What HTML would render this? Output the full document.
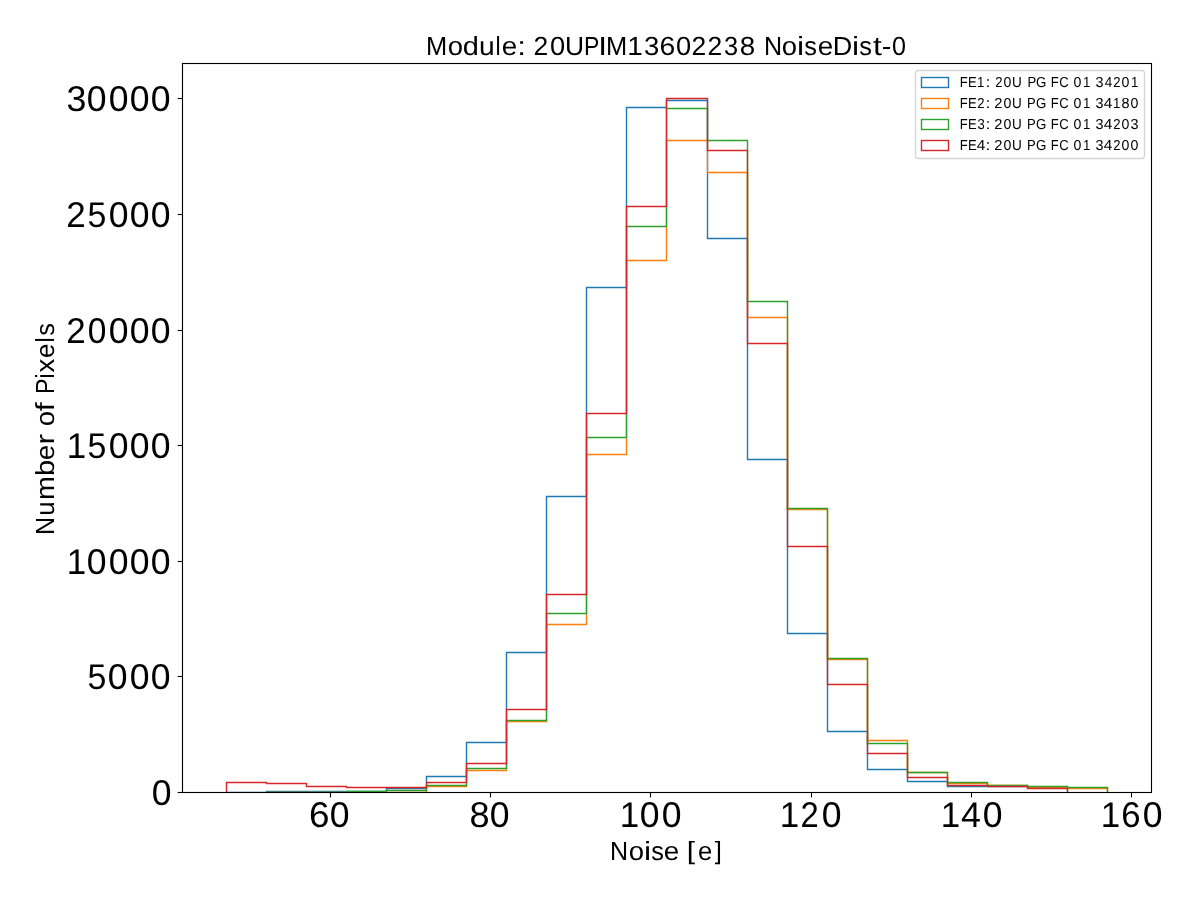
<!DOCTYPE html>
<html lang="en"><head><meta charset="utf-8"><title>Module: 20UPIM13602238 NoiseDist-0</title>
<style>
html,body{margin:0;padding:0;background:#ffffff;}
body{width:1200px;height:900px;overflow:hidden;}
svg{display:block;will-change:transform;}
text{font-family:"Liberation Sans",sans-serif;fill:#000000;text-rendering:geometricPrecision;}
</style></head><body>
<svg width="1200" height="900" viewBox="0 0 1200 900">
<rect x="0" y="0" width="1200" height="900" fill="#ffffff"/>
<defs><clipPath id="axclip"><rect x="181.97" y="63.4" width="969" height="728.65"/></clipPath></defs>
<!-- step histograms -->
<g fill="none" stroke-width="1.39" stroke-linejoin="miter" stroke-linecap="butt" clip-path="url(#axclip)">
<polyline stroke="#1f77b4" points="226.5,792.5 266.5,792.5 266.5,791.5 306.5,791.5 346.5,791.5 386.5,791.5 386.5,788.5 426.5,788.5 426.5,776.5 466.5,776.5 466.5,742.5 506.5,742.5 506.5,652.5 546.5,652.5 546.5,496.5 586.5,496.5 586.5,287.5 626.5,287.5 626.5,107.5 666.5,107.5 666.5,100.5 707.5,100.5 707.5,238.5 747.5,238.5 747.5,459.5 787.5,459.5 787.5,633.5 827.5,633.5 827.5,731.5 867.5,731.5 867.5,769.5 907.5,769.5 907.5,781.5 947.5,781.5 947.5,786.5 987.5,786.5 1027.5,786.5 1027.5,787.5 1067.5,787.5 1067.5,792.5"/>
<polyline stroke="#ff7f0e" points="266.5,792.5 306.5,792.5 346.5,792.5 386.5,792.5 426.5,792.5 426.5,786.5 466.5,786.5 466.5,770.5 506.5,770.5 506.5,721.5 546.5,721.5 546.5,624.5 586.5,624.5 586.5,454.5 626.5,454.5 626.5,260.5 666.5,260.5 666.5,140.5 707.5,140.5 707.5,172.5 747.5,172.5 747.5,317.5 787.5,317.5 787.5,509.5 827.5,509.5 827.5,659.5 867.5,659.5 867.5,740.5 907.5,740.5 907.5,772.5 947.5,772.5 947.5,783.5 987.5,783.5 987.5,785.5 1027.5,785.5 1027.5,787.5 1067.5,787.5 1067.5,788.5 1107.5,788.5 1107.5,792.5"/>
<polyline stroke="#2ca02c" points="266.5,792.5 306.5,792.5 346.5,792.5 346.5,791.5 386.5,791.5 386.5,790.5 426.5,790.5 426.5,785.5 466.5,785.5 466.5,768.5 506.5,768.5 506.5,720.5 546.5,720.5 546.5,613.5 586.5,613.5 586.5,437.5 626.5,437.5 626.5,226.5 666.5,226.5 666.5,108.5 707.5,108.5 707.5,140.5 747.5,140.5 747.5,301.5 787.5,301.5 787.5,508.5 827.5,508.5 827.5,658.5 867.5,658.5 867.5,743.5 907.5,743.5 907.5,772.5 947.5,772.5 947.5,782.5 987.5,782.5 987.5,785.5 1027.5,785.5 1027.5,786.5 1067.5,786.5 1067.5,787.5 1107.5,787.5 1107.5,792.5"/>
<polyline stroke="#d62728" points="226.5,792.5 226.5,782.5 266.5,782.5 266.5,783.5 306.5,783.5 306.5,786.5 346.5,786.5 346.5,787.5 386.5,787.5 426.5,787.5 426.5,782.5 466.5,782.5 466.5,763.5 506.5,763.5 506.5,709.5 546.5,709.5 546.5,594.5 586.5,594.5 586.5,413.5 626.5,413.5 626.5,206.5 666.5,206.5 666.5,98.5 707.5,98.5 707.5,150.5 747.5,150.5 747.5,343.5 787.5,343.5 787.5,546.5 827.5,546.5 827.5,684.5 867.5,684.5 867.5,753.5 907.5,753.5 907.5,777.5 947.5,777.5 947.5,785.5 987.5,785.5 987.5,786.5 1027.5,786.5 1027.5,788.5 1067.5,788.5 1067.5,792.5"/>
</g>
<!-- ticks -->
<g stroke="#000000" stroke-width="1.11">
<line x1="330.5" y1="792.5" x2="330.5" y2="797.36"/>
<line x1="490.5" y1="792.5" x2="490.5" y2="797.36"/>
<line x1="650.5" y1="792.5" x2="650.5" y2="797.36"/>
<line x1="811.5" y1="792.5" x2="811.5" y2="797.36"/>
<line x1="971.5" y1="792.5" x2="971.5" y2="797.36"/>
<line x1="1131.5" y1="792.5" x2="1131.5" y2="797.36"/>
<line x1="177.64" y1="792.5" x2="182.5" y2="792.5"/>
<line x1="177.64" y1="676.5" x2="182.5" y2="676.5"/>
<line x1="177.64" y1="561.5" x2="182.5" y2="561.5"/>
<line x1="177.64" y1="445.5" x2="182.5" y2="445.5"/>
<line x1="177.64" y1="330.5" x2="182.5" y2="330.5"/>
<line x1="177.64" y1="214.5" x2="182.5" y2="214.5"/>
<line x1="177.64" y1="98.5" x2="182.5" y2="98.5"/>
</g>
<rect x="182.5" y="63.5" width="969" height="729" fill="none" stroke="#000000" stroke-width="1.11" stroke-linejoin="miter"/>
<!-- legend -->
<rect x="915.5" y="70.5" width="229" height="88" rx="2.8" ry="2.8" fill="#ffffff" fill-opacity="0.8" stroke="#cccccc" stroke-opacity="0.8" stroke-width="1.39"/>
<rect x="921.5" y="77.5" width="27" height="10" fill="none" stroke="#1f77b4" stroke-width="1.39"/>
<rect x="921.5" y="98.5" width="27" height="10" fill="none" stroke="#ff7f0e" stroke-width="1.39"/>
<rect x="921.5" y="119.5" width="27" height="10" fill="none" stroke="#2ca02c" stroke-width="1.39"/>
<rect x="921.5" y="140.5" width="27" height="10" fill="none" stroke="#d62728" stroke-width="1.39"/>
<!-- text -->
<text transform="translate(686.86,859.05) scale(1,0.95)" font-size="26.2" textLength="8.32" lengthAdjust="spacingAndGlyphs">[</text>
<text x="697.9" y="860" font-size="26.2" textLength="14.28" lengthAdjust="spacingAndGlyphs">e</text>
<text transform="translate(714.76,859.05) scale(1,0.95)" font-size="26.2" textLength="7.1" lengthAdjust="spacingAndGlyphs">]</text>
<text x="425.94" y="55" font-size="26.2" textLength="21.2" lengthAdjust="spacingAndGlyphs">M</text>
<text x="447.82" y="55" font-size="26.2" textLength="15.31" lengthAdjust="spacingAndGlyphs">o</text>
<text x="462.76" y="55" font-size="26.2" textLength="16.13" lengthAdjust="spacingAndGlyphs">d</text>
<text x="479.11" y="55" font-size="26.2" textLength="15.72" lengthAdjust="spacingAndGlyphs">u</text>
<text x="495.42" y="55" font-size="26.2" textLength="5.13" lengthAdjust="spacingAndGlyphs">l</text>
<text x="501.81" y="55" font-size="26.2" textLength="15.47" lengthAdjust="spacingAndGlyphs">e</text>
<text x="517.15" y="55" font-size="26.2" textLength="8.74" lengthAdjust="spacingAndGlyphs">:</text>
<text x="533.61" y="55" font-size="26.2" textLength="14.73" lengthAdjust="spacingAndGlyphs">2</text>
<text x="549.96" y="55" font-size="26.2" textLength="15.16" lengthAdjust="spacingAndGlyphs">0</text>
<text x="564.98" y="55" font-size="26.2" textLength="19.08" lengthAdjust="spacingAndGlyphs">U</text>
<text x="583.97" y="55" font-size="26.2" textLength="15.37" lengthAdjust="spacingAndGlyphs">P</text>
<text x="598.15" y="55" font-size="26.2" textLength="8.74" lengthAdjust="spacingAndGlyphs">I</text>
<text x="605.94" y="55" font-size="26.2" textLength="21.2" lengthAdjust="spacingAndGlyphs">M</text>
<text x="627.37" y="55" font-size="26.2" textLength="15.55" lengthAdjust="spacingAndGlyphs">1</text>
<text x="643.95" y="55" font-size="26.2" textLength="15.31" lengthAdjust="spacingAndGlyphs">3</text>
<text x="659.51" y="55" font-size="26.2" textLength="15.79" lengthAdjust="spacingAndGlyphs">6</text>
<text x="675.96" y="55" font-size="26.2" textLength="15.16" lengthAdjust="spacingAndGlyphs">0</text>
<text x="691.61" y="55" font-size="26.2" textLength="14.73" lengthAdjust="spacingAndGlyphs">2</text>
<text x="707.61" y="55" font-size="26.2" textLength="14.73" lengthAdjust="spacingAndGlyphs">2</text>
<text x="724.03" y="55" font-size="26.2" textLength="14.14" lengthAdjust="spacingAndGlyphs">3</text>
<text x="739.81" y="55" font-size="26.2" textLength="15.47" lengthAdjust="spacingAndGlyphs">8</text>
<text x="763.97" y="55" font-size="26.2" textLength="18.11" lengthAdjust="spacingAndGlyphs">N</text>
<text x="781.82" y="55" font-size="26.2" textLength="15.31" lengthAdjust="spacingAndGlyphs">o</text>
<text x="796.99" y="55" font-size="26.2" textLength="7.11" lengthAdjust="spacingAndGlyphs">i</text>
<text x="804.27" y="55" font-size="26.2" textLength="12.66" lengthAdjust="spacingAndGlyphs">s</text>
<text x="817.81" y="55" font-size="26.2" textLength="15.47" lengthAdjust="spacingAndGlyphs">e</text>
<text x="832.81" y="55" font-size="26.2" textLength="19.53" lengthAdjust="spacingAndGlyphs">D</text>
<text x="851.99" y="55" font-size="26.2" textLength="7.11" lengthAdjust="spacingAndGlyphs">i</text>
<text x="859.27" y="55" font-size="26.2" textLength="12.66" lengthAdjust="spacingAndGlyphs">s</text>
<text x="872.92" y="55" font-size="26.2" textLength="8.88" lengthAdjust="spacingAndGlyphs">t</text>
<text x="881.76" y="55" font-size="26.2" textLength="9.59" lengthAdjust="spacingAndGlyphs">-</text>
<text x="892.04" y="55" font-size="26.2" textLength="13.99" lengthAdjust="spacingAndGlyphs">0</text>
<text x="609.97" y="860" font-size="26.2" textLength="18.11" lengthAdjust="spacingAndGlyphs">N</text>
<text x="628.82" y="860" font-size="26.2" textLength="15.31" lengthAdjust="spacingAndGlyphs">o</text>
<text x="643.99" y="860" font-size="26.2" textLength="7.11" lengthAdjust="spacingAndGlyphs">i</text>
<text x="651.27" y="860" font-size="26.2" textLength="12.66" lengthAdjust="spacingAndGlyphs">s</text>
<text x="663.81" y="860" font-size="26.2" textLength="15.47" lengthAdjust="spacingAndGlyphs">e</text>
<text transform="translate(54,394.03) rotate(-90)" font-size="26.2" textLength="15.37" lengthAdjust="spacingAndGlyphs">P</text>
<text transform="translate(54,378.56) rotate(-90)" font-size="26.2" textLength="5.18" lengthAdjust="spacingAndGlyphs">i</text>
<text transform="translate(54,372.39) rotate(-90)" font-size="26.2" textLength="13.76" lengthAdjust="spacingAndGlyphs">x</text>
<text transform="translate(54,358.1) rotate(-90)" font-size="26.2" textLength="14.28" lengthAdjust="spacingAndGlyphs">e</text>
<text transform="translate(54,342.58) rotate(-90)" font-size="26.2" textLength="5.13" lengthAdjust="spacingAndGlyphs">l</text>
<text transform="translate(54,335.73) rotate(-90)" font-size="26.2" textLength="12.66" lengthAdjust="spacingAndGlyphs">s</text>
<text transform="translate(54,426.18) rotate(-90)" font-size="26.2" textLength="15.31" lengthAdjust="spacingAndGlyphs">o</text>
<text transform="translate(54,411.23) rotate(-90)" font-size="26.2" textLength="8.88" lengthAdjust="spacingAndGlyphs">f</text>
<text transform="translate(54,535.03) rotate(-90)" font-size="26.2" textLength="18.11" lengthAdjust="spacingAndGlyphs">N</text>
<text transform="translate(54,515.73) rotate(-90)" font-size="26.2" textLength="14.41" lengthAdjust="spacingAndGlyphs">u</text>
<text transform="translate(54,499.9) rotate(-90)" font-size="26.2" textLength="23.76" lengthAdjust="spacingAndGlyphs">m</text>
<text transform="translate(54,475.94) rotate(-90)" font-size="26.2" textLength="16.13" lengthAdjust="spacingAndGlyphs">b</text>
<text transform="translate(54,460.19) rotate(-90)" font-size="26.2" textLength="15.47" lengthAdjust="spacingAndGlyphs">e</text>
<text transform="translate(54,444.6) rotate(-90)" font-size="26.2" textLength="10.66" lengthAdjust="spacingAndGlyphs">r</text>
<text x="309.07" y="827" font-size="35.8" textLength="20.53" lengthAdjust="spacingAndGlyphs">6</text>
<text x="329.64" y="827" font-size="35.8" textLength="19.78" lengthAdjust="spacingAndGlyphs">0</text>
<text x="469.49" y="827" font-size="35.8" textLength="20.07" lengthAdjust="spacingAndGlyphs">8</text>
<text x="489.64" y="827" font-size="35.8" textLength="19.78" lengthAdjust="spacingAndGlyphs">0</text>
<text x="619.82" y="827" font-size="35.8" textLength="19.44" lengthAdjust="spacingAndGlyphs">1</text>
<text x="639.64" y="827" font-size="35.8" textLength="19.78" lengthAdjust="spacingAndGlyphs">0</text>
<text x="661.64" y="827" font-size="35.8" textLength="19.78" lengthAdjust="spacingAndGlyphs">0</text>
<text x="779.82" y="827" font-size="35.8" textLength="19.44" lengthAdjust="spacingAndGlyphs">1</text>
<text x="800.4" y="827" font-size="35.8" textLength="18.25" lengthAdjust="spacingAndGlyphs">2</text>
<text x="821.64" y="827" font-size="35.8" textLength="19.78" lengthAdjust="spacingAndGlyphs">0</text>
<text x="940.82" y="827" font-size="35.8" textLength="19.44" lengthAdjust="spacingAndGlyphs">1</text>
<text x="961.12" y="827" font-size="35.8" textLength="19.92" lengthAdjust="spacingAndGlyphs">4</text>
<text x="982.64" y="827" font-size="35.8" textLength="19.78" lengthAdjust="spacingAndGlyphs">0</text>
<text x="1100.82" y="827" font-size="35.8" textLength="19.44" lengthAdjust="spacingAndGlyphs">1</text>
<text x="1121.18" y="827" font-size="35.8" textLength="19.32" lengthAdjust="spacingAndGlyphs">6</text>
<text x="1142.64" y="827" font-size="35.8" textLength="19.78" lengthAdjust="spacingAndGlyphs">0</text>
<text x="151.64" y="805" font-size="35.8" textLength="19.78" lengthAdjust="spacingAndGlyphs">0</text>
<text x="87.58" y="689" font-size="35.8" textLength="18.89" lengthAdjust="spacingAndGlyphs">5</text>
<text x="107.64" y="689" font-size="35.8" textLength="19.78" lengthAdjust="spacingAndGlyphs">0</text>
<text x="129.64" y="689" font-size="35.8" textLength="19.78" lengthAdjust="spacingAndGlyphs">0</text>
<text x="150.64" y="689" font-size="35.8" textLength="19.78" lengthAdjust="spacingAndGlyphs">0</text>
<text x="66.82" y="574" font-size="35.8" textLength="19.44" lengthAdjust="spacingAndGlyphs">1</text>
<text x="86.64" y="574" font-size="35.8" textLength="19.78" lengthAdjust="spacingAndGlyphs">0</text>
<text x="108.64" y="574" font-size="35.8" textLength="19.78" lengthAdjust="spacingAndGlyphs">0</text>
<text x="129.64" y="574" font-size="35.8" textLength="19.78" lengthAdjust="spacingAndGlyphs">0</text>
<text x="150.64" y="574" font-size="35.8" textLength="19.78" lengthAdjust="spacingAndGlyphs">0</text>
<text x="66.82" y="458" font-size="35.8" textLength="19.44" lengthAdjust="spacingAndGlyphs">1</text>
<text x="87.58" y="458" font-size="35.8" textLength="18.89" lengthAdjust="spacingAndGlyphs">5</text>
<text x="108.64" y="458" font-size="35.8" textLength="19.78" lengthAdjust="spacingAndGlyphs">0</text>
<text x="129.64" y="458" font-size="35.8" textLength="19.78" lengthAdjust="spacingAndGlyphs">0</text>
<text x="150.64" y="458" font-size="35.8" textLength="19.78" lengthAdjust="spacingAndGlyphs">0</text>
<text x="66.29" y="343" font-size="35.8" textLength="19.47" lengthAdjust="spacingAndGlyphs">2</text>
<text x="87.72" y="343" font-size="35.8" textLength="18.61" lengthAdjust="spacingAndGlyphs">0</text>
<text x="108.64" y="343" font-size="35.8" textLength="19.78" lengthAdjust="spacingAndGlyphs">0</text>
<text x="129.64" y="343" font-size="35.8" textLength="19.78" lengthAdjust="spacingAndGlyphs">0</text>
<text x="150.64" y="343" font-size="35.8" textLength="19.78" lengthAdjust="spacingAndGlyphs">0</text>
<text x="66.29" y="227" font-size="35.8" textLength="19.47" lengthAdjust="spacingAndGlyphs">2</text>
<text x="87.58" y="227" font-size="35.8" textLength="18.89" lengthAdjust="spacingAndGlyphs">5</text>
<text x="108.64" y="227" font-size="35.8" textLength="19.78" lengthAdjust="spacingAndGlyphs">0</text>
<text x="129.64" y="227" font-size="35.8" textLength="19.78" lengthAdjust="spacingAndGlyphs">0</text>
<text x="150.64" y="227" font-size="35.8" textLength="19.78" lengthAdjust="spacingAndGlyphs">0</text>
<text x="66.62" y="111" font-size="35.8" textLength="19.92" lengthAdjust="spacingAndGlyphs">3</text>
<text x="86.64" y="111" font-size="35.8" textLength="19.78" lengthAdjust="spacingAndGlyphs">0</text>
<text x="108.64" y="111" font-size="35.8" textLength="19.78" lengthAdjust="spacingAndGlyphs">0</text>
<text x="129.64" y="111" font-size="35.8" textLength="19.78" lengthAdjust="spacingAndGlyphs">0</text>
<text x="150.64" y="111" font-size="35.8" textLength="19.78" lengthAdjust="spacingAndGlyphs">0</text>
<text x="959.73" y="87" font-size="14.5" textLength="7.97" lengthAdjust="spacingAndGlyphs">F</text>
<text x="967.89" y="87" font-size="14.5" textLength="8.7" lengthAdjust="spacingAndGlyphs">E</text>
<text x="977.12" y="87" font-size="14.5" textLength="7.37" lengthAdjust="spacingAndGlyphs">1</text>
<text x="985.52" y="87" font-size="14.5" textLength="4.84" lengthAdjust="spacingAndGlyphs">:</text>
<text x="995.34" y="87" font-size="14.5" textLength="7.27" lengthAdjust="spacingAndGlyphs">2</text>
<text x="1003.54" y="87" font-size="14.5" textLength="7.87" lengthAdjust="spacingAndGlyphs">0</text>
<text x="1012.1" y="87" font-size="14.5" textLength="9.79" lengthAdjust="spacingAndGlyphs">U</text>
<text x="1027.44" y="87" font-size="14.5" textLength="8.7" lengthAdjust="spacingAndGlyphs">P</text>
<text x="1035.96" y="87" font-size="14.5" textLength="10.33" lengthAdjust="spacingAndGlyphs">G</text>
<text x="1050.72" y="87" font-size="14.5" textLength="7.97" lengthAdjust="spacingAndGlyphs">F</text>
<text x="1059.22" y="87" font-size="14.5" textLength="9.44" lengthAdjust="spacingAndGlyphs">C</text>
<text x="1073.54" y="87" font-size="14.5" textLength="7.87" lengthAdjust="spacingAndGlyphs">0</text>
<text x="1083.12" y="87" font-size="14.5" textLength="7.37" lengthAdjust="spacingAndGlyphs">1</text>
<text x="1095.53" y="87" font-size="14.5" textLength="8.02" lengthAdjust="spacingAndGlyphs">3</text>
<text x="1104.8" y="87" font-size="14.5" textLength="7.47" lengthAdjust="spacingAndGlyphs">4</text>
<text x="1113.34" y="87" font-size="14.5" textLength="7.27" lengthAdjust="spacingAndGlyphs">2</text>
<text x="1121.54" y="87" font-size="14.5" textLength="7.87" lengthAdjust="spacingAndGlyphs">0</text>
<text x="1131.12" y="87" font-size="14.5" textLength="7.37" lengthAdjust="spacingAndGlyphs">1</text>
<text x="959.73" y="108" font-size="14.5" textLength="7.97" lengthAdjust="spacingAndGlyphs">F</text>
<text x="967.89" y="108" font-size="14.5" textLength="8.7" lengthAdjust="spacingAndGlyphs">E</text>
<text x="977.34" y="108" font-size="14.5" textLength="7.27" lengthAdjust="spacingAndGlyphs">2</text>
<text x="985.52" y="108" font-size="14.5" textLength="4.84" lengthAdjust="spacingAndGlyphs">:</text>
<text x="994.39" y="108" font-size="14.5" textLength="8.17" lengthAdjust="spacingAndGlyphs">2</text>
<text x="1003.54" y="108" font-size="14.5" textLength="7.87" lengthAdjust="spacingAndGlyphs">0</text>
<text x="1012.1" y="108" font-size="14.5" textLength="9.79" lengthAdjust="spacingAndGlyphs">U</text>
<text x="1026.94" y="108" font-size="14.5" textLength="8.7" lengthAdjust="spacingAndGlyphs">P</text>
<text x="1035.96" y="108" font-size="14.5" textLength="10.33" lengthAdjust="spacingAndGlyphs">G</text>
<text x="1050.72" y="108" font-size="14.5" textLength="7.97" lengthAdjust="spacingAndGlyphs">F</text>
<text x="1059.22" y="108" font-size="14.5" textLength="9.44" lengthAdjust="spacingAndGlyphs">C</text>
<text x="1073.54" y="108" font-size="14.5" textLength="7.87" lengthAdjust="spacingAndGlyphs">0</text>
<text x="1083.12" y="108" font-size="14.5" textLength="7.37" lengthAdjust="spacingAndGlyphs">1</text>
<text x="1095.53" y="108" font-size="14.5" textLength="8.02" lengthAdjust="spacingAndGlyphs">3</text>
<text x="1103.75" y="108" font-size="14.5" textLength="8.58" lengthAdjust="spacingAndGlyphs">4</text>
<text x="1113.12" y="108" font-size="14.5" textLength="7.37" lengthAdjust="spacingAndGlyphs">1</text>
<text x="1121.53" y="108" font-size="14.5" textLength="8.02" lengthAdjust="spacingAndGlyphs">8</text>
<text x="1130.54" y="108" font-size="14.5" textLength="7.87" lengthAdjust="spacingAndGlyphs">0</text>
<text x="959.73" y="129" font-size="14.5" textLength="7.97" lengthAdjust="spacingAndGlyphs">F</text>
<text x="967.89" y="129" font-size="14.5" textLength="8.7" lengthAdjust="spacingAndGlyphs">E</text>
<text x="977.4" y="129" font-size="14.5" textLength="7.27" lengthAdjust="spacingAndGlyphs">3</text>
<text x="985.52" y="129" font-size="14.5" textLength="4.84" lengthAdjust="spacingAndGlyphs">:</text>
<text x="994.39" y="129" font-size="14.5" textLength="8.17" lengthAdjust="spacingAndGlyphs">2</text>
<text x="1003.54" y="129" font-size="14.5" textLength="7.87" lengthAdjust="spacingAndGlyphs">0</text>
<text x="1012.1" y="129" font-size="14.5" textLength="9.79" lengthAdjust="spacingAndGlyphs">U</text>
<text x="1026.94" y="129" font-size="14.5" textLength="8.7" lengthAdjust="spacingAndGlyphs">P</text>
<text x="1035.96" y="129" font-size="14.5" textLength="10.33" lengthAdjust="spacingAndGlyphs">G</text>
<text x="1050.72" y="129" font-size="14.5" textLength="7.97" lengthAdjust="spacingAndGlyphs">F</text>
<text x="1059.22" y="129" font-size="14.5" textLength="9.44" lengthAdjust="spacingAndGlyphs">C</text>
<text x="1073.54" y="129" font-size="14.5" textLength="7.87" lengthAdjust="spacingAndGlyphs">0</text>
<text x="1083.12" y="129" font-size="14.5" textLength="7.37" lengthAdjust="spacingAndGlyphs">1</text>
<text x="1095.53" y="129" font-size="14.5" textLength="8.02" lengthAdjust="spacingAndGlyphs">3</text>
<text x="1103.75" y="129" font-size="14.5" textLength="8.58" lengthAdjust="spacingAndGlyphs">4</text>
<text x="1113.34" y="129" font-size="14.5" textLength="7.27" lengthAdjust="spacingAndGlyphs">2</text>
<text x="1121.54" y="129" font-size="14.5" textLength="7.87" lengthAdjust="spacingAndGlyphs">0</text>
<text x="1130.53" y="129" font-size="14.5" textLength="8.02" lengthAdjust="spacingAndGlyphs">3</text>
<text x="959.73" y="150" font-size="14.5" textLength="7.97" lengthAdjust="spacingAndGlyphs">F</text>
<text x="967.89" y="150" font-size="14.5" textLength="8.7" lengthAdjust="spacingAndGlyphs">E</text>
<text x="976.75" y="150" font-size="14.5" textLength="8.58" lengthAdjust="spacingAndGlyphs">4</text>
<text x="985.52" y="150" font-size="14.5" textLength="4.84" lengthAdjust="spacingAndGlyphs">:</text>
<text x="994.39" y="150" font-size="14.5" textLength="8.17" lengthAdjust="spacingAndGlyphs">2</text>
<text x="1003.54" y="150" font-size="14.5" textLength="7.87" lengthAdjust="spacingAndGlyphs">0</text>
<text x="1012.1" y="150" font-size="14.5" textLength="9.79" lengthAdjust="spacingAndGlyphs">U</text>
<text x="1026.94" y="150" font-size="14.5" textLength="8.7" lengthAdjust="spacingAndGlyphs">P</text>
<text x="1035.96" y="150" font-size="14.5" textLength="10.33" lengthAdjust="spacingAndGlyphs">G</text>
<text x="1050.72" y="150" font-size="14.5" textLength="7.97" lengthAdjust="spacingAndGlyphs">F</text>
<text x="1059.22" y="150" font-size="14.5" textLength="9.44" lengthAdjust="spacingAndGlyphs">C</text>
<text x="1073.54" y="150" font-size="14.5" textLength="7.87" lengthAdjust="spacingAndGlyphs">0</text>
<text x="1083.12" y="150" font-size="14.5" textLength="7.37" lengthAdjust="spacingAndGlyphs">1</text>
<text x="1095.53" y="150" font-size="14.5" textLength="8.02" lengthAdjust="spacingAndGlyphs">3</text>
<text x="1103.75" y="150" font-size="14.5" textLength="8.58" lengthAdjust="spacingAndGlyphs">4</text>
<text x="1113.34" y="150" font-size="14.5" textLength="7.27" lengthAdjust="spacingAndGlyphs">2</text>
<text x="1121.54" y="150" font-size="14.5" textLength="7.87" lengthAdjust="spacingAndGlyphs">0</text>
<text x="1130.54" y="150" font-size="14.5" textLength="7.87" lengthAdjust="spacingAndGlyphs">0</text>
</svg></body></html>
